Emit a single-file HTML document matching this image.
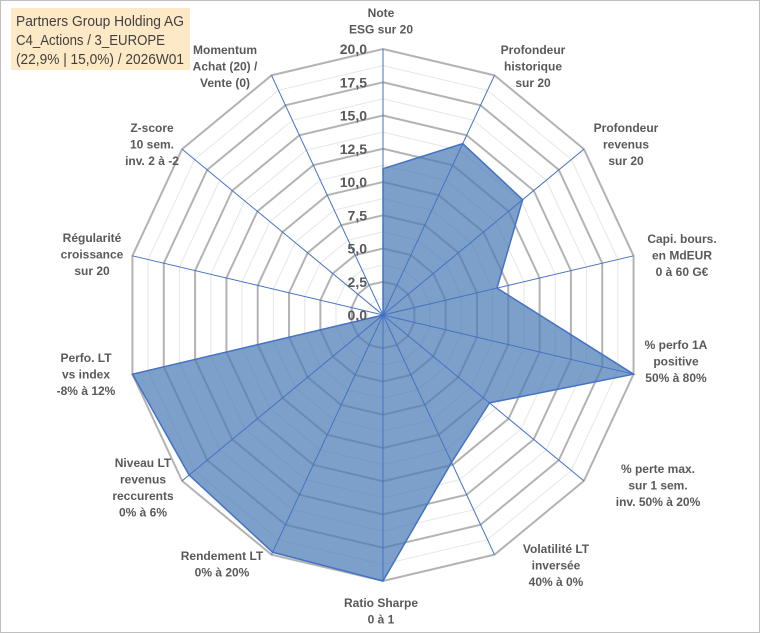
<!DOCTYPE html>
<html><head><meta charset="utf-8"><style>
body{margin:0;background:#fff}
svg{display:block;font-family:"Liberation Sans",Arial,sans-serif}
.lab{font-size:12px;font-weight:bold;fill:#595959}
.tick{font-size:14px;font-weight:bold;fill:#595959}
</style></head><body>
<svg id="chart" width="760" height="633" viewBox="0 0 760 633">
<rect x="0.5" y="0.5" width="759" height="632" fill="#fff" stroke="#bfbfbf"/>
<g id="grid"></g>
<g id="series"></g>
<g id="spokes"></g>
<g id="ticks"></g>
<g id="labels"></g>
<g>
<rect x="11" y="8" width="179" height="62" fill="#fde9c6"/>
<text x="16" y="26" font-size="15" fill="#404040" textLength="168" lengthAdjust="spacingAndGlyphs">Partners Group Holding AG</text>
<text x="16" y="45" font-size="15" fill="#404040" textLength="149" lengthAdjust="spacingAndGlyphs">C4_Actions / 3_EUROPE</text>
<text x="16" y="64" font-size="15" fill="#404040" textLength="168" lengthAdjust="spacingAndGlyphs">(22,9% | 15,0%) / 2026W01</text>
</g>
</svg>
<script>
const categories=[["Note","ESG sur 20"],["Profondeur","historique","sur 20"],["Profondeur","revenus","sur 20"],["Capi. bours.","en MdEUR","0 à 60 G€"],["% perfo 1A","positive","50% à 80%"],["% perte max.","sur 1 sem.","inv. 50% à 20%"],["Volatilité LT","inversée","40% à 0%"],["Ratio Sharpe","0 à 1"],["Rendement LT","0% à 20%"],["Niveau LT","revenus","reccurents","0% à 6%"],["Perfo. LT","vs index","-8% à 12%"],["Régularité","croissance","sur 20"],["Z-score","10 sem.","inv. 2 à -2"],["Momentum","Achat (20) /","Vente (0)"]];
const values=[11,14.3,13.9,9.1,20,10.6,12.3,20,19.8,19.3,20,0,0,0];
const tickLabels=["0,0","2,5","5,0","7,5","10,0","12,5","15,0","17,5","20,0"];
const maxVal=20;
const labelPos=[[381,13],[533,50],[626,128],[682,239],[676,345],[658,469],[556,549],[381,603],[222,556],[143,463],[86,358],[92,238],[152,128],[225,50]];
const cx=383,cy=315,Rx=257,Ry=266,N=categories.length;
const NS="http://www.w3.org/2000/svg";
function pt(i,v){const a=i*2*Math.PI/N;return [cx+Rx*v/maxVal*Math.sin(a),cy-Ry*v/maxVal*Math.cos(a)];}
function mk(t,at,p){const e=document.createElementNS(NS,t);for(const k in at)e.setAttribute(k,at[k]);p.appendChild(e);return e;}
const grid=document.getElementById('grid');
for(let k=1;k<=16;k++){const v=k*1.25;const pts=[];for(let i=0;i<N;i++)pts.push(pt(i,v).join(','));
const major=k%2===0;
const e=mk('polygon',{points:pts.join(' '),fill:'none',stroke:major?'#b3b3b3':'#e6e6e6','stroke-width':major?2:1},grid);

}
const sp=document.getElementById('spokes');
for(let i=0;i<N;i++){const p=pt(i,maxVal);const e=mk('line',{x1:cx,y1:cy,x2:p[0],y2:p[1],stroke:'#4472c4','stroke-width':1},sp);

}
const ser=document.getElementById('series');
const poly=mk('polygon',{points:values.map((v,i)=>pt(i,v).join(',')).join(' '),fill:'#4a7bb4','fill-opacity':0.72,stroke:'#4472c4','stroke-width':1.5},ser);


const tk=document.getElementById('ticks');
tickLabels.forEach((t,k)=>{const y=cy-Ry*(k*2.5)/maxVal;const e=mk('text',{x:367,y:y+5,'text-anchor':'end',class:'tick'},tk);e.textContent=t;

});
const lb=document.getElementById('labels');
categories.forEach((c,i)=>{const [x,y]=labelPos[i];const e=mk('text',{x:x,y:y+4,'text-anchor':'middle',class:'lab'},lb);


c.forEach((s,j)=>{const ts=mk('tspan',{x:x,dy:j?16.5:0},e);ts.textContent=s;});});
</script>
</body></html>
